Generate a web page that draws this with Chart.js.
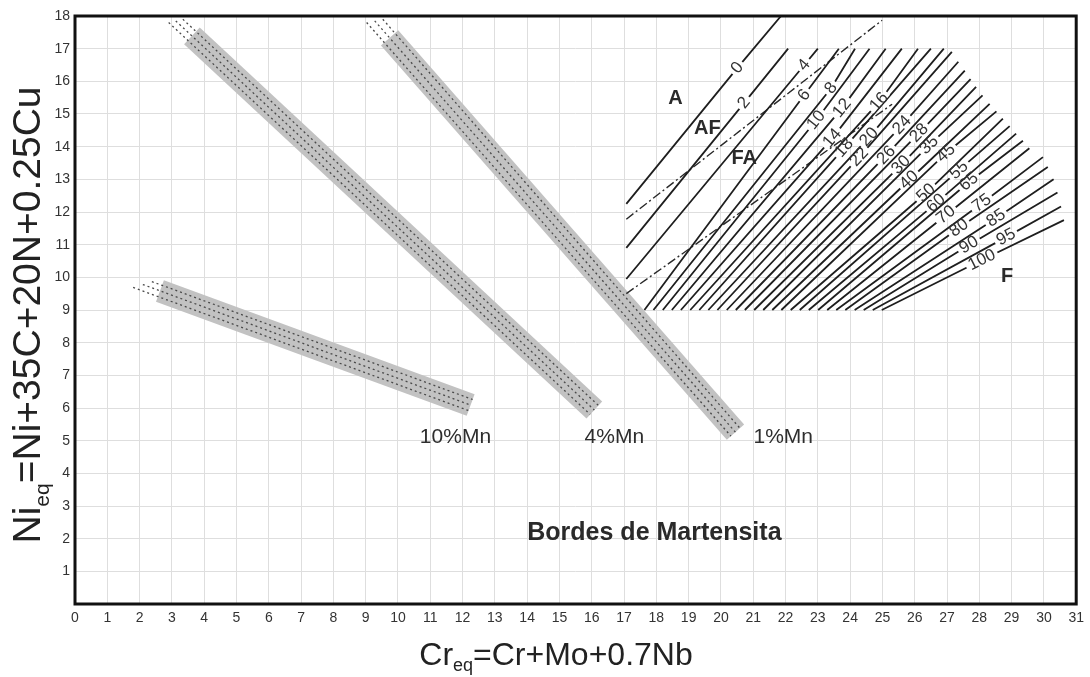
<!DOCTYPE html>
<html>
<head>
<meta charset="utf-8">
<script src="https://cdn.jsdelivr.net/npm/chart.js@4.4.0/dist/chart.umd.min.js"></script>
<style>
  html, body { margin: 0; padding: 0; background: #fff; }
</style>
</head>
<body>
<canvas id="wrcChart" width="1090" height="677"></canvas>
<script>
// iso-ferrite lines: start, label point, end (Cr_eq, Ni_eq)
const isoLabels = ['0','2','4','6','8','10','12','14','16','18','20','22','24','26','28','30','35','40','45','50','55','60','65','70','75','80','85','90','95','100'];
const isoStartX = [17.07,17.07,17.07,17.63,17.91,18.20,18.48,18.76,19.05,19.33,19.61,19.89,20.18,20.46,20.74,21.03,21.31,21.59,21.87,22.16,22.44,22.72,23.01,23.29,23.57,23.85,24.14,24.42,24.70,24.98];
const isoStartY = [12.25,10.9,9.95,9,9,9,9,9,9,9,9,9,9,9,9,9,9,9,9,9,9,9,9,9,9,9,9,9,9,9];
const isoMidX = [20.51,20.72,22.58,22.58,23.41,22.95,23.75,23.45,24.9,23.82,24.59,24.28,25.61,25.12,26.14,25.58,26.45,25.83,26.97,26.35,27.37,26.66,27.68,26.97,28.08,27.37,28.52,27.68,28.83,28.08];
const isoMidY = [16.41,15.34,16.5,15.58,15.79,14.81,15.18,14.26,15.37,13.96,14.29,13.68,14.66,13.74,14.42,13.44,14.05,12.98,13.8,12.58,13.28,12.27,12.92,11.91,12.27,11.51,11.81,10.99,11.23,10.53];
const isoEndX = [21.86,22.08,23.0,23.65,24.15,24.6,25.1,25.6,26.1,26.5,26.9,27.15,27.35,27.55,27.73,27.9,28.1,28.32,28.53,28.73,28.94,29.14,29.35,29.55,29.97,30.12,30.3,30.42,30.53,30.62];
const isoEndY = [18,17,17,17,17,17,17,17,17,17,17,16.9,16.6,16.33,16.07,15.83,15.57,15.31,15.08,14.86,14.63,14.4,14.18,13.95,13.68,13.38,13.0,12.6,12.17,11.75];

// phase boundaries (dash-dot)
const afBoundX = [17.07, 24.99];
const afBoundY = [11.78, 17.87];
const faBoundX = [17.07, 25.3];
const faBoundY = [9.5, 15.3];

// martensite bands (centre line) and their dotted lines
const bandNames = ['1%Mn', '4%Mn', '10%Mn'];
const bandX = [[9.74, 20.45], [3.62, 16.08], [2.63, 12.25]];
const bandY = [[17.33, 5.26], [17.39, 5.94], [9.58, 6.09]];
const dotX = [
  [9.53, 20.59], [9.28, 20.45], [9.03, 20.31],
  [3.34, 16.21], [3.12, 16.08], [2.9, 15.95],
  [2.38, 12.31], [2.1, 12.25], [1.8, 12.19]
];
const dotY = [
  [17.9, 5.38], [17.85, 5.26], [17.8, 5.14],
  [17.9, 6.075], [17.85, 5.94], [17.8, 5.805],
  [9.87, 6.26], [9.78, 6.09], [9.69, 5.92]
];

// text placed on the diagram (data coords)
const notes = [
  { text: 'A', x: 18.59, y: 15.49, bold: true, size: 20 },
  { text: 'AF', x: 19.58, y: 14.57, bold: true, size: 20 },
  { text: 'FA', x: 20.72, y: 13.65, bold: true, size: 20 },
  { text: 'F', x: 28.86, y: 10.04, bold: true, size: 20 },
  { text: 'Bordes de Martensita', x: 17.94, y: 2.17, bold: true, size: 25 },
  { text: '10%Mn', x: 11.78, y: 5.11, bold: false, size: 21 },
  { text: '4%Mn', x: 16.70, y: 5.11, bold: false, size: 21 },
  { text: '1%Mn', x: 21.93, y: 5.11, bold: false, size: 21 }
];

const FONT = "'Liberation Sans', Arial, sans-serif";

function pts(xs, ys) {
  return xs.map((x, i) => ({ x: x, y: ys[i] }));
}

const datasets = [];

isoLabels.forEach((lab, i) => {
  datasets.push({
    label: 'FN ' + lab,
    data: [
      { x: isoStartX[i], y: isoStartY[i] },
      { x: isoMidX[i], y: isoMidY[i] },
      { x: isoEndX[i], y: isoEndY[i] }
    ],
    borderColor: '#1f1f1f',
    borderWidth: 1.8,
    pointRadius: 0,
    tension: 0,
    order: 1,
    isoText: lab
  });
});

[[afBoundX, afBoundY], [faBoundX, faBoundY]].forEach(([xs, ys], i) => {
  datasets.push({
    label: i === 0 ? 'AF/FA' : 'FA/F',
    data: pts(xs, ys),
    borderColor: '#2a2a2a',
    borderWidth: 1.4,
    borderDash: [9, 3, 2, 3],
    pointRadius: 0,
    order: 1
  });
});

dotX.forEach((xs, i) => {
  datasets.push({
    label: 'dots ' + i,
    data: pts(xs, dotY[i]),
    borderColor: '#4a4a4a',
    borderWidth: 1.3,
    borderDash: [2, 3],
    pointRadius: 0,
    order: 2
  });
});

bandNames.forEach((name, i) => {
  datasets.push({
    label: name,
    data: pts(bandX[i], bandY[i]),
    borderColor: '#c2c2c2',
    borderWidth: 23,
    borderCapStyle: 'butt',
    pointRadius: 0,
    order: 3
  });
});

// labels on iso lines, frame, notes, axis titles
const decorPlugin = {
  id: 'decor',
  afterDatasetsDraw(chart) {
    const ctx = chart.ctx;
    const area = chart.chartArea;
    const xs = chart.scales.x, ys = chart.scales.y;

    ctx.save();
    ctx.font = '17px ' + FONT;
    ctx.textAlign = 'center';
    ctx.textBaseline = 'middle';
    chart.data.datasets.forEach((ds, i) => {
      if (!ds.isoText) return;
      const meta = chart.getDatasetMeta(i);
      const p0 = meta.data[0], p1 = meta.data[1], p2 = meta.data[2];
      const ang = Math.atan2(p2.y - p0.y, p2.x - p0.x);
      const w = ctx.measureText(ds.isoText).width;
      ctx.save();
      ctx.translate(p1.x, p1.y);
      ctx.rotate(ang);
      ctx.fillStyle = '#fff';
      ctx.fillRect(-w / 2 - 3, -3.5, w + 6, 7);
      ctx.fillStyle = '#333';
      ctx.fillText(ds.isoText, 0, 0);
      ctx.restore();
    });

    notes.forEach(n => {
      ctx.font = (n.bold ? 'bold ' : '') + n.size + 'px ' + FONT;
      ctx.fillStyle = n.bold ? '#2a2a2a' : '#2e2e2e';
      ctx.fillText(n.text, xs.getPixelForValue(n.x), ys.getPixelForValue(n.y));
    });

    ctx.lineWidth = 3;
    ctx.strokeStyle = '#111';
    ctx.strokeRect(area.left, area.top, area.right - area.left, area.bottom - area.top);
    ctx.restore();
  },
  afterDraw(chart) {
    const ctx = chart.ctx;
    ctx.save();
    ctx.fillStyle = '#222';
    ctx.textBaseline = 'alphabetic';
    ctx.textAlign = 'left';

    function drawParts(parts, cx, cy) {
      let total = 0;
      parts.forEach(p => { ctx.font = p[1] + 'px ' + FONT; total += ctx.measureText(p[0]).width; });
      let x = cx - total / 2;
      parts.forEach(p => {
        ctx.font = p[1] + 'px ' + FONT;
        ctx.fillText(p[0], x, cy + p[2]);
        x += ctx.measureText(p[0]).width;
      });
    }

    drawParts([['Cr', 32, 0], ['eq', 18, 6], ['=Cr+Mo+0.7Nb', 32, 0]], 556, 665);

    ctx.translate(40, 315);
    ctx.rotate(-Math.PI / 2);
    drawParts([['Ni', 39, 0], ['eq', 21, 9], ['=Ni+35C+20N+0.25Cu', 39, 0]], 0, 0);
    ctx.restore();
  }
};

new Chart(document.getElementById('wrcChart').getContext('2d'), {
  type: 'line',
  data: { datasets: datasets },
  options: {
    responsive: false,
    animation: false,
    layout: { padding: { top: 16, right: 13, left: 0, bottom: 0 } },
    plugins: {
      legend: { display: false },
      tooltip: { enabled: false }
    },
    elements: { line: { fill: false } },
    datasets: { line: { clip: 0 } },
    scales: {
      x: {
        type: 'linear',
        min: 0,
        max: 31,
        ticks: {
          stepSize: 1,
          autoSkip: false,
          maxRotation: 0,
          color: '#333',
          padding: 6,
          font: { size: 14, family: FONT }
        },
        grid: { color: '#dedede', drawTicks: false },
        border: { display: false },
        afterFit(scale) { scale.height = 73; }
      },
      y: {
        type: 'linear',
        min: 0,
        max: 18,
        ticks: {
          stepSize: 1,
          color: '#333',
          padding: 5,
          font: { size: 14, family: FONT },
          callback: v => (v === 0 ? '' : v)
        },
        grid: { color: '#dedede', drawTicks: false },
        border: { display: false },
        afterFit(scale) { scale.width = 75; }
      }
    }
  },
  plugins: [decorPlugin]
});
</script>
</body>
</html>
